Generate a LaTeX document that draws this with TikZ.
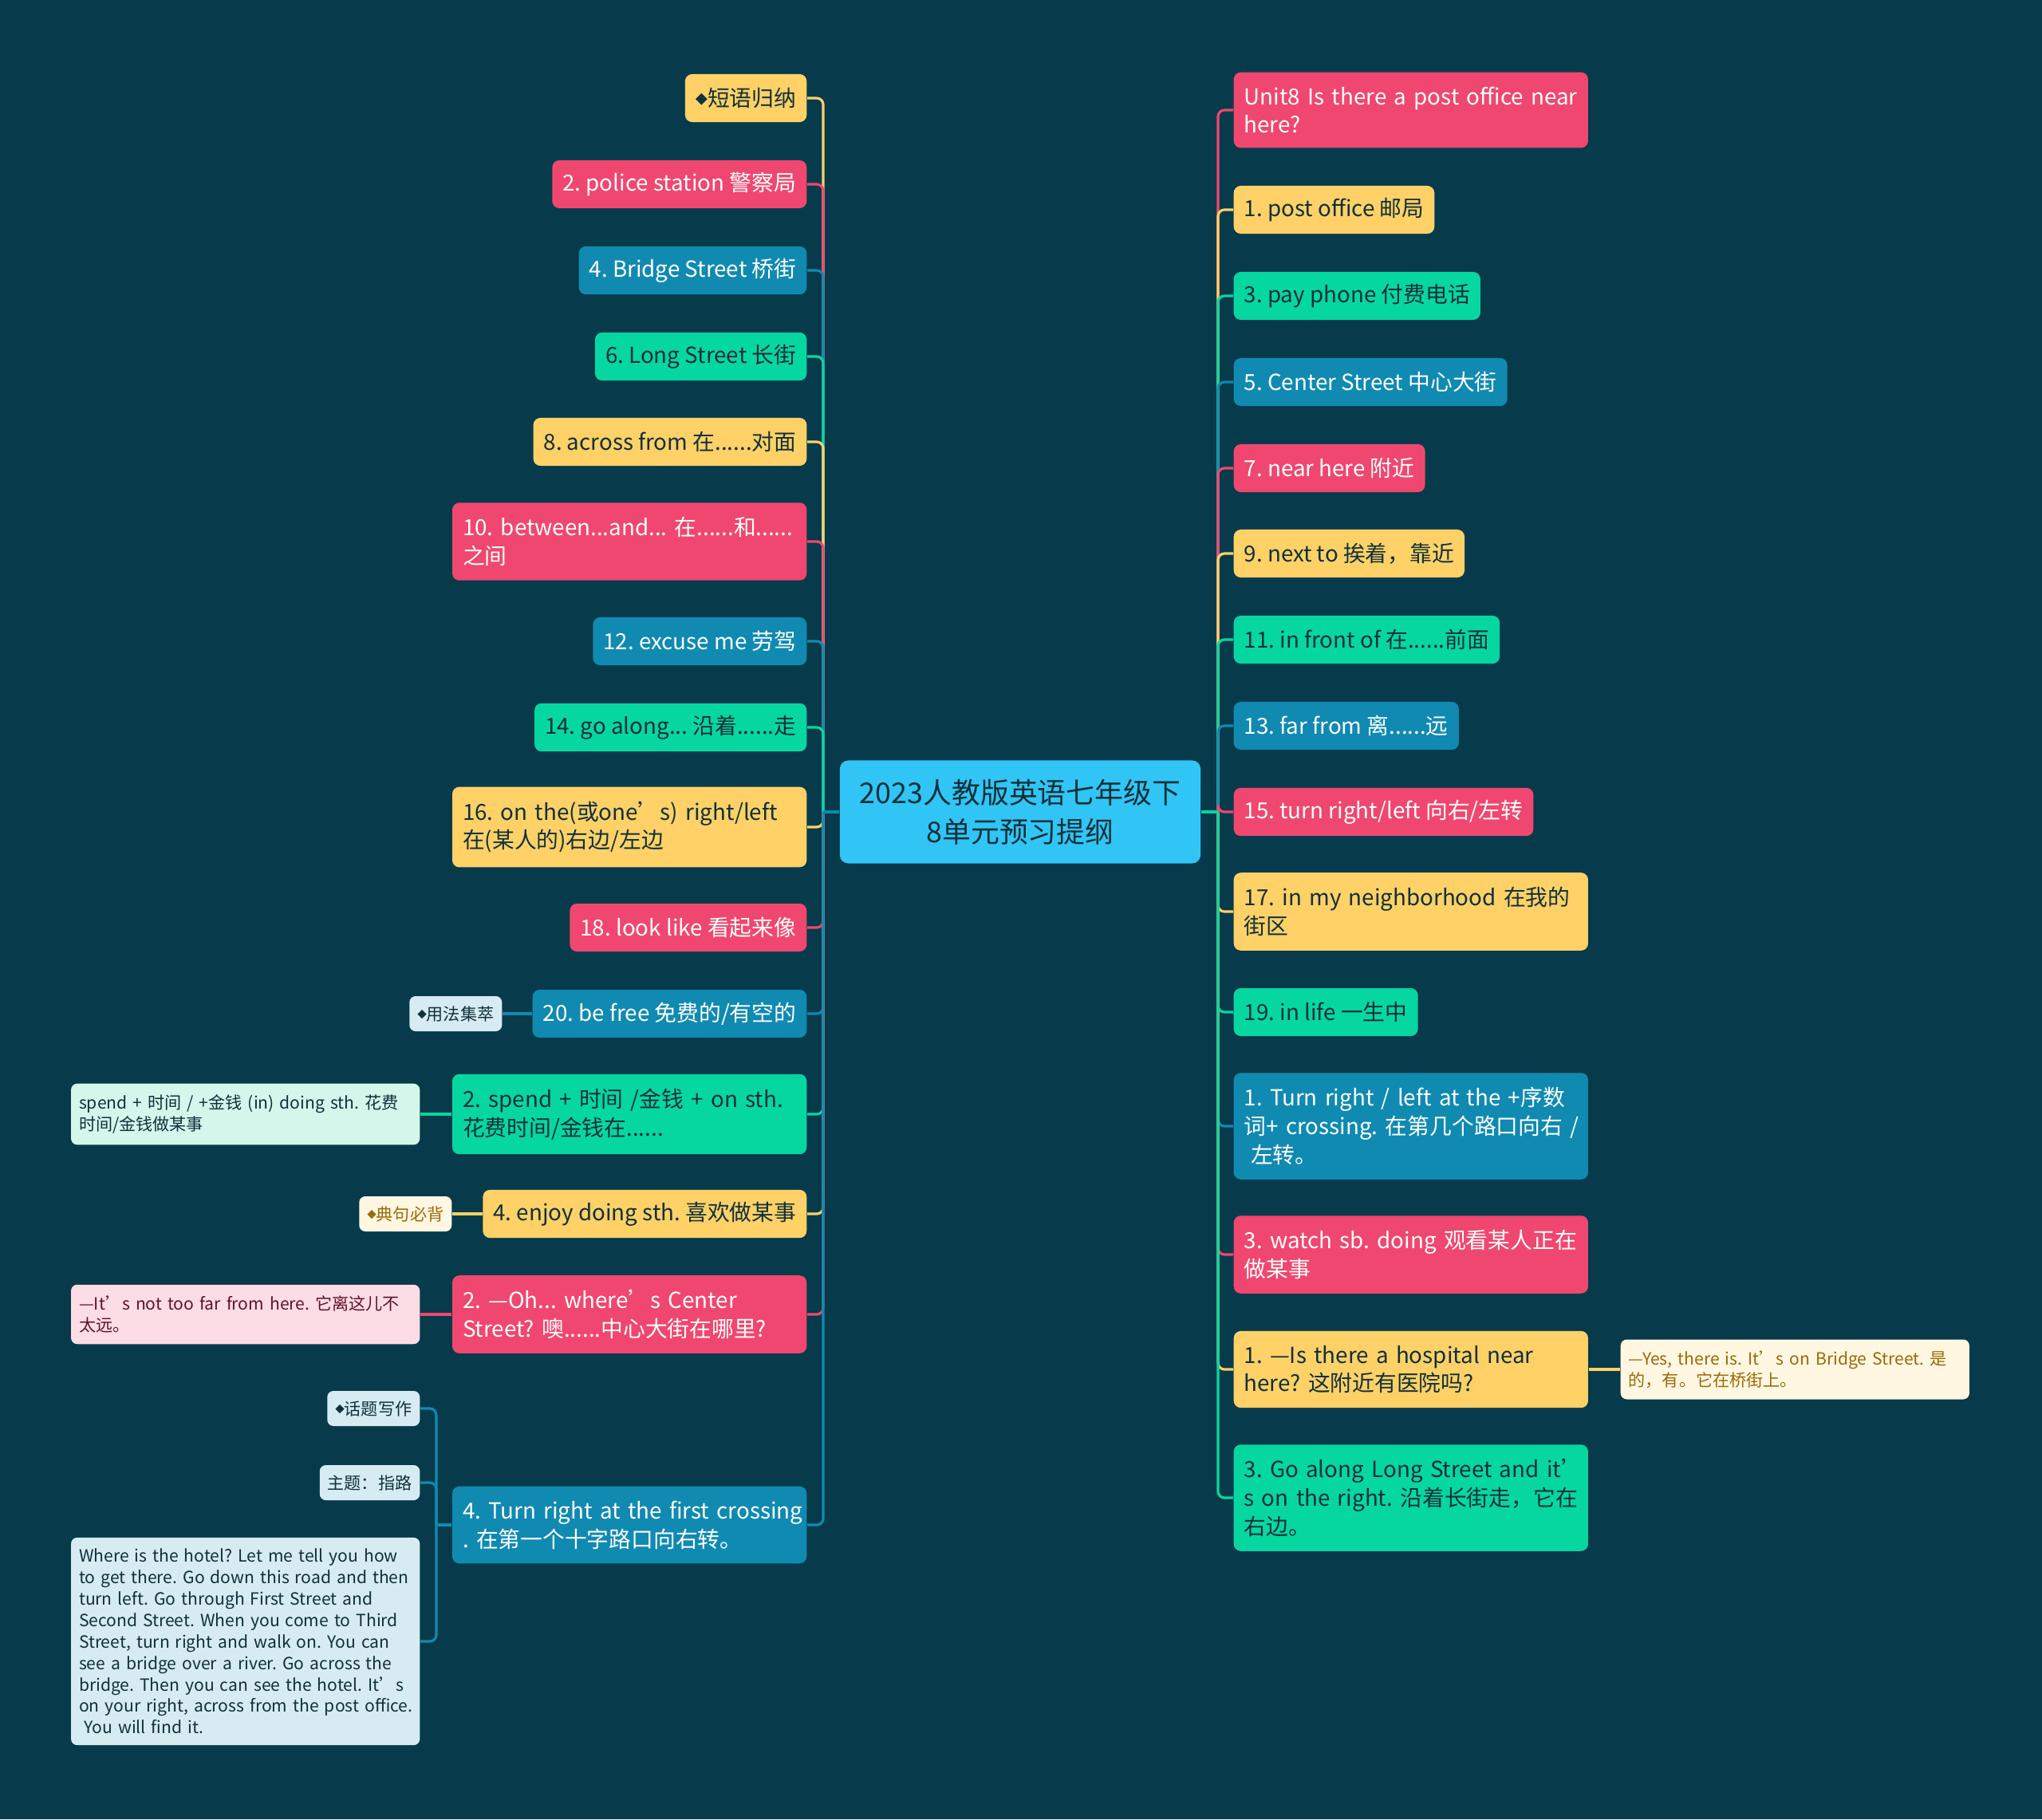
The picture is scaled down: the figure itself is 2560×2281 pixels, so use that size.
\documentclass[tikz,border=0pt]{standalone}
\usepackage{fontspec}
\setmainfont{Noto Sans CJK SC}
\usepackage{tikz}

\definecolor{bgcol}{HTML}{073B4C}
\definecolor{redc}{HTML}{EF476F}
\definecolor{yelc}{HTML}{FFD166}
\definecolor{grnc}{HTML}{06D6A0}
\definecolor{bluc}{HTML}{118AB2}
\definecolor{rootc}{HTML}{30C5F4}
\definecolor{inkc}{HTML}{10303A}
\definecolor{paleblue}{HTML}{D6EBF2}
\definecolor{palegreen}{HTML}{D4F7EC}
\definecolor{palepink}{HTML}{FDDDE5}
\definecolor{palecream}{HTML}{FFF7E2}
\definecolor{brownink}{HTML}{9A6A05}
\definecolor{maroonink}{HTML}{5E1426}

\newcommand{\mainsize}{\fontsize{7.9pt}{10.2pt}\selectfont\frenchspacing}
\newcommand{\notesize}{\fontsize{6pt}{7.65pt}\selectfont\frenchspacing}
\newcommand{\rootsize}{\fontsize{10.2pt}{13.9pt}\selectfont}
\newcommand{\dia}{\raisebox{0.12em}{\scalebox{0.55}{◆}}}

\tikzset{
  topic/.style={rounded corners=2.5pt, inner xsep=0.13cm, inner ysep=0.15cm,
    minimum height=0.6cm, align=left, font=\mainsize},
  redbox/.style={topic, fill=redc, text=white},
  yellowbox/.style={topic, fill=yelc, text=inkc},
  greenbox/.style={topic, fill=grnc, text=inkc},
  bluebox/.style={topic, fill=bluc, text=white},
  wide/.style={text width=4.18cm, inner ysep=0.18cm},
  note/.style 2 args={rounded corners=2.2pt, fill=#1, text=#2, inner xsep=0.1cm,
    inner ysep=0.105cm, minimum height=0.44cm, align=left, font=\notesize},
  widenote/.style={text width=4.17cm, inner ysep=0.14cm},
  link/.style={line width=0.9pt, rounded corners=2.3pt}
}

\begin{document}
\begin{tikzpicture}[x=0.01cm, y=-0.01cm]
    \fill[bgcol] (0,0) rectangle (2560,2281);
    \useasboundingbox (0,0) rectangle (2560,2281);

    % centre
    \node[rounded corners=3pt, fill=rootc, text=inkc, font=\rootsize, align=center,
      minimum width=4.52cm, minimum height=1.29cm] (root) at (1279,1018)
      {2023人教版英语七年级下\\8单元预习提纲};
    \coordinate (lt) at (1032,1018);
    \coordinate (rt) at (1527,1018);

    % left side
    \node[yellowbox, anchor=east] (l1)  at (1012,123)  {\dia{}短语归纳};
    \node[redbox, anchor=east]    (l2)  at (1012,231)  {2. police station 警察局};
    \node[bluebox, anchor=east]   (l3)  at (1012,339)  {4. Bridge Street 桥街};
    \node[greenbox, anchor=east]  (l4)  at (1012,447)  {6. Long Street 长街};
    \node[yellowbox, anchor=east] (l5)  at (1012,554)  {8. across from 在......对面};
    \node[redbox, wide, anchor=east] (l6) at (1012,679)
      {\mbox{10. between...and... 在......和......}\\之间};
    \node[bluebox, anchor=east]   (l7)  at (1012,804)  {12. excuse me 劳驾};
    \node[greenbox, anchor=east]  (l8)  at (1012,912)  {14. go along... 沿着......走};
    \node[yellowbox, wide, anchor=east] (l9) at (1012,1037)
      {\mbox{16. on the(或one’s) right/left}\\在(某人的)右边/左边};
    \node[redbox, anchor=east]    (l10) at (1012,1163) {18. look like 看起来像};
    \node[bluebox, anchor=east]   (l11) at (1012,1271) {20. be free 免费的/有空的};
    \node[greenbox, wide, anchor=east] (l12) at (1012,1397)
      {\mbox{2. spend + 时间 /金钱 + on sth.}\\花费时间/金钱在......};
    \node[yellowbox, anchor=east] (l13) at (1012,1522) {4. enjoy doing sth. 喜欢做某事};
    \node[redbox, wide, anchor=east] (l14) at (1012,1648)
      {\mbox{2. —Oh... where’s Center}\\\mbox{Street? 噢......中心大街在哪里?}};
    \node[bluebox, wide, anchor=east] (l15) at (1012,1912)
      {\mbox{4. Turn right at the first crossing}\\\mbox{. 在第一个十字路口向右转。}};

    % notes on the left
    \node[note={paleblue}{inkc}, anchor=east] (n11) at (630,1271) {\dia{}用法集萃};
    \node[note={palegreen}{inkc}, widenote, anchor=east] (n12) at (527,1397)
      {\mbox{spend + 时间 / +金钱 (in) doing sth. 花费}\\时间/金钱做某事};
    \node[note={palecream}{brownink}, anchor=east] (n13) at (567,1522) {\dia{}典句必背};
    \node[note={palepink}{maroonink}, widenote, anchor=east] (n14) at (527,1648)
      {\mbox{—It’s not too far from here. 它离这儿不}\\太远。};
    \node[note={paleblue}{inkc}, anchor=east] (n15a) at (527,1766) {\dia{}话题写作};
    \node[note={paleblue}{inkc}, anchor=east] (n15b) at (527,1859) {主题：指路};
    \node[note={paleblue}{inkc}, widenote, anchor=east] (n15c) at (527,2058)
      {\mbox{Where is the hotel? Let me tell you how}\\
       \mbox{to get there. Go down this road and then}\\
       \mbox{turn left. Go through First Street and}\\
       \mbox{Second Street. When you come to Third}\\
       \mbox{Street, turn right and walk on. You can}\\
       \mbox{see a bridge over a river. Go across the}\\
       \mbox{bridge. Then you can see the hotel. It’s}\\
       \mbox{on your right, across from the post office.}\\
       \mbox{\hspace{0.3em}You will find it.}};
    \coordinate (pt) at (547,1912);

    % right side
    \node[redbox, wide, anchor=west] (r1) at (1546,138)
      {\mbox{Unit8 Is there a post office near}\\here?};
    \node[yellowbox, anchor=west] (r2)  at (1546,263)  {1. post office 邮局};
    \node[greenbox, anchor=west]  (r3)  at (1546,371)  {3. pay phone 付费电话};
    \node[bluebox, anchor=west]   (r4)  at (1546,479)  {5. Center Street 中心大街};
    \node[redbox, anchor=west]    (r5)  at (1546,587)  {7. near here 附近};
    \node[yellowbox, anchor=west] (r6)  at (1546,694)  {9. next to 挨着，靠近};
    \node[greenbox, anchor=west]  (r7)  at (1546,802)  {11. in front of 在......前面};
    \node[bluebox, anchor=west]   (r8)  at (1546,910)  {13. far from 离......远};
    \node[redbox, anchor=west]    (r9)  at (1546,1018) {15. turn right/left 向右/左转};
    \node[yellowbox, wide, anchor=west] (r10) at (1546,1143)
      {\mbox{17. in my neighborhood 在我的}\\街区};
    \node[greenbox, anchor=west]  (r11) at (1546,1269) {19. in life 一生中};
    \node[bluebox, wide, anchor=west] (r12) at (1546,1412)
      {\mbox{1. Turn right / left at the +序数}\\\mbox{词+ crossing. 在第几个路口向右 /}\\\mbox{\hspace{0.3em}左转。}};
    \node[redbox, wide, anchor=west] (r13) at (1546,1573)
      {\mbox{3. watch sb. doing 观看某人正在}\\做某事};
    \node[yellowbox, wide, anchor=west] (r14) at (1546,1717)
      {\mbox{1. —Is there a hospital near}\\\mbox{here? 这附近有医院吗?}};
    \node[greenbox, wide, anchor=west] (r15) at (1546,1878)
      {\mbox{3. Go along Long Street and it’}\\\mbox{s on the right. 沿着长街走，它在}\\右边。};
    \node[note={palecream}{brownink}, widenote, anchor=west] (n14r) at (2031,1717)
      {\mbox{—Yes, there is. It’s on Bridge Street. 是}\\的，有。它在桥街上。};

    % branches, left
    \draw[link, yelc] (lt) |- (l1.east);
    \draw[link, redc] (lt) |- (l2.east);
    \draw[link, bluc] (lt) |- (l3.east);
    \draw[link, grnc] (lt) |- (l4.east);
    \draw[link, yelc] (lt) |- (l5.east);
    \draw[link, redc] (lt) |- (l6.east);
    \draw[link, bluc] (lt) |- (l7.east);
    \draw[link, grnc] (lt) |- (l8.east);
    \draw[link, yelc] (lt) |- (l9.east);
    \draw[link, redc] (lt) |- (l10.east);
    \draw[link, bluc] (lt) |- (l11.east);
    \draw[link, grnc] (lt) |- (l12.east);
    \draw[link, yelc] (lt) |- (l13.east);
    \draw[link, redc] (lt) |- (l14.east);
    \draw[link, bluc] (lt) |- (l15.east);
    \draw[link, bluc] (root.west) -- (lt);

    % branches, right
    \draw[link, redc] (rt) |- (r1.west);
    \draw[link, yelc] (rt) |- (r2.west);
    \draw[link, grnc] (rt) |- (r3.west);
    \draw[link, bluc] (rt) |- (r4.west);
    \draw[link, redc] (rt) |- (r5.west);
    \draw[link, yelc] (rt) |- (r6.west);
    \draw[link, grnc] (rt) |- (r7.west);
    \draw[link, bluc] (rt) |- (r8.west);
    \draw[link, redc] (rt) |- (r9.west);
    \draw[link, yelc] (rt) |- (r10.west);
    \draw[link, grnc] (rt) |- (r11.west);
    \draw[link, bluc] (rt) |- (r12.west);
    \draw[link, redc] (rt) |- (r13.west);
    \draw[link, yelc] (rt) |- (r14.west);
    \draw[link, grnc] (rt) |- (r15.west);
    \draw[link, grnc] (root.east) -- (rt);

    % notes
    \draw[link, bluc] (l11.west) -- (n11.east);
    \draw[link, grnc] (l12.west) -- (n12.east);
    \draw[link, yelc] (l13.west) -- (n13.east);
    \draw[link, redc] (l14.west) -- (n14.east);
    \draw[link, bluc] (l15.west) -- (pt);
    \draw[link, bluc] (pt) |- (n15a.east);
    \draw[link, bluc] (pt) |- (n15b.east);
    \draw[link, bluc] (pt) |- (n15c.east);
    \draw[link, yelc] (r14.east) -- (n14r.west);
\end{tikzpicture}
\end{document}
